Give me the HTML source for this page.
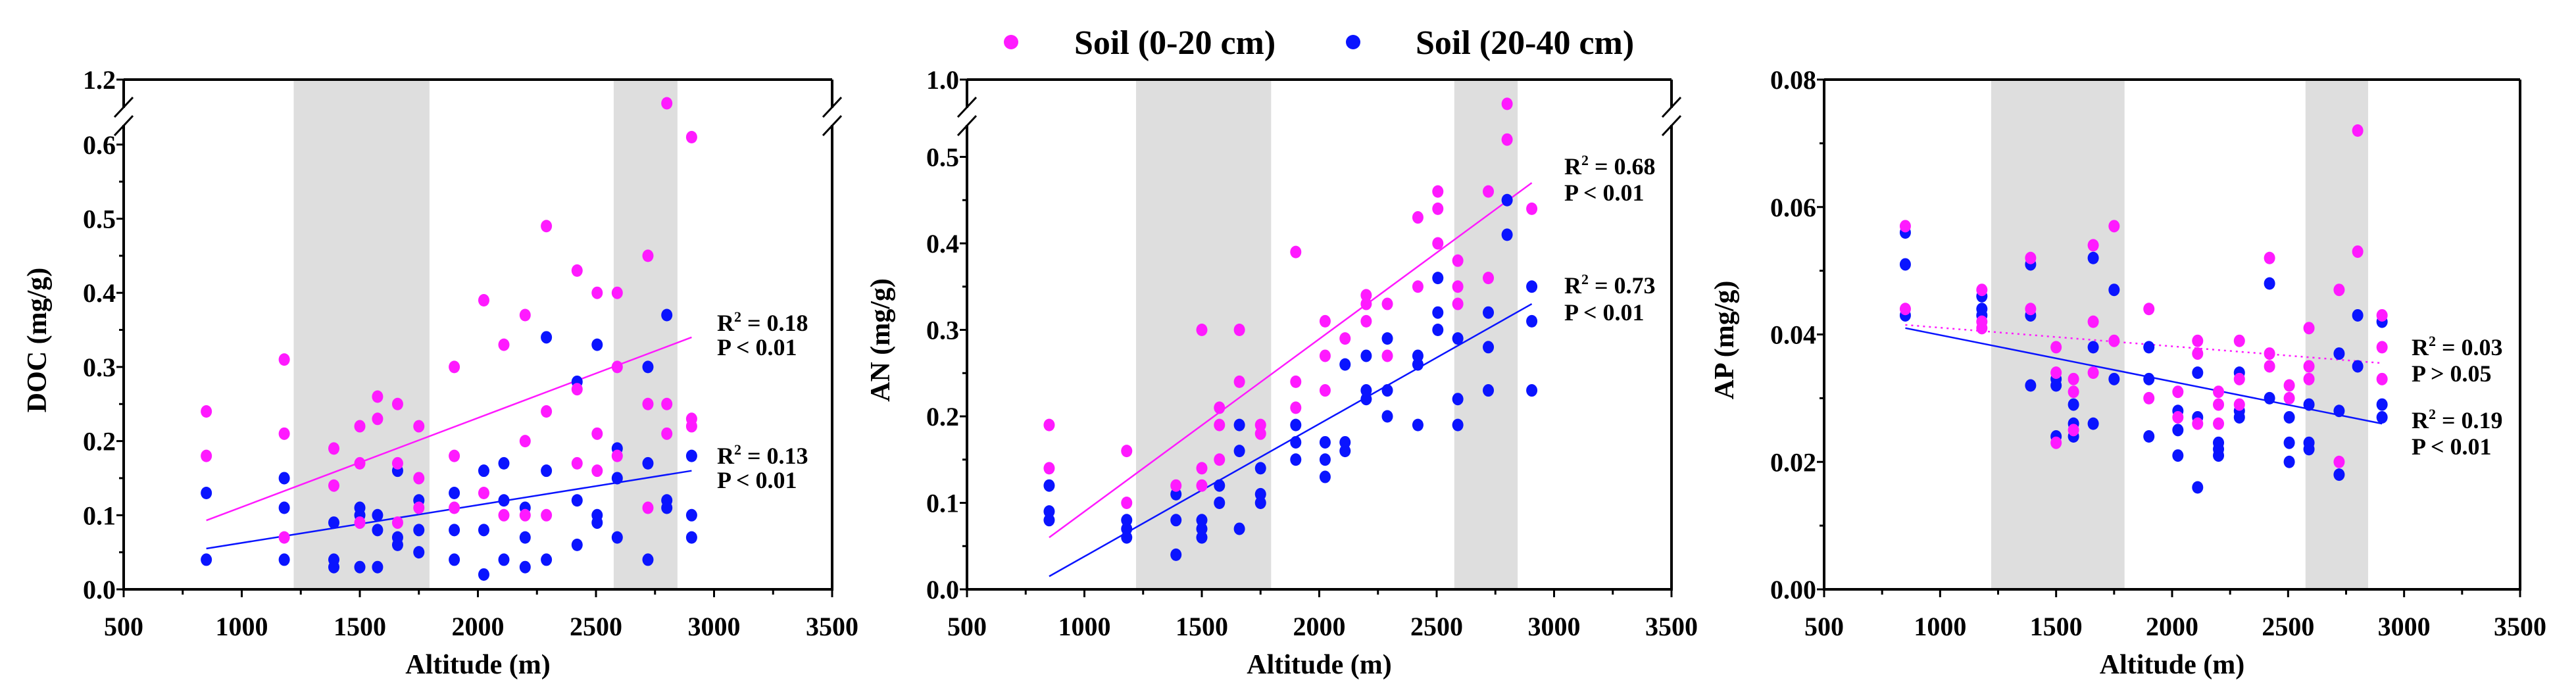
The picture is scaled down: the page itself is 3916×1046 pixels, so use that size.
<!DOCTYPE html>
<html><head><meta charset="utf-8">
<style>
html,body{margin:0;padding:0;background:#fff;}
svg{display:block;}
svg text{font-family:"Liberation Serif","DejaVu Serif",serif !important;font-weight:bold;}
</style></head>
<body>
<svg id="chart" width="3916" height="1046" viewBox="0 0 3916 1046" xmlns="http://www.w3.org/2000/svg" font-family="Liberation Serif, serif" font-weight="bold">
  <g>
    <circle cx="1537" cy="64" r="11" fill="#ff1aff"/>
    <text x="1633" y="82" font-size="52" font-family="Liberation Serif, serif" font-weight="bold">Soil (0-20 cm)</text>
    <circle cx="2057" cy="64" r="11" fill="#0a14ff"/>
    <text x="2152" y="82" font-size="52" font-family="Liberation Serif, serif" font-weight="bold">Soil (20-40 cm)</text>
  </g>
</svg>
<script>
// shared categories
const altitudes = [850,1180,1390,1500,1575,1660,1750,1900,2025,2110,2200,2290,2420,2505,2590,2720,2800,2905];
const xTicks = [500,1000,1500,2000,2500,3000,3500];
const bandStarts = [1220,2575];
const bandEnds = [1795,2845];

// DOC
const docTop = [[0.24,0.18],[0.31,0.21,0.07],[0.19,0.14],[0.22,0.17,0.09],[0.26,0.23],[0.25,0.17,0.09],[0.22,0.15,0.11],[0.30,0.18,0.11],[0.39,0.13],[0.33,0.10],[0.37,0.20,0.10],[0.49,0.24,0.10],[0.43,0.27,0.17],[0.40,0.21,0.16],[0.40,0.30,0.18],[0.45,0.25,0.11],[1.10,0.25,0.21],[0.61,0.23,0.22]];
const docSub = [[0.13,0.04],[0.15,0.11,0.04],[0.09,0.04,0.03],[0.11,0.10,0.03],[0.10,0.08,0.03],[0.16,0.07,0.06],[0.12,0.08,0.05],[0.13,0.08,0.04],[0.16,0.08,0.02],[0.17,0.12,0.04],[0.11,0.07,0.03],[0.34,0.16,0.04],[0.28,0.12,0.06],[0.33,0.10,0.09],[0.19,0.15,0.07],[0.30,0.17,0.04],[0.37,0.12,0.11],[0.18,0.10,0.07]];
const docTrendTop = [0.093,0.34];
const docTrendSub = [0.055,0.16];
const docTicks = ["0.0","0.1","0.2","0.3","0.4","0.5","0.6"];
const docStats = ["R² = 0.18","P < 0.01","R² = 0.13","P < 0.01"];

// AN
const anTop = [[0.19,0.14],[0.16,0.10],[0.12],[0.30,0.14,0.12],[0.21,0.19,0.15],[0.30,0.24],[0.19,0.18],[0.39,0.24,0.21],[0.31,0.27,0.23],[0.29],[0.34,0.33,0.31],[0.33,0.27],[0.43,0.35],[0.46,0.44,0.40],[0.38,0.35,0.33],[0.46,0.36],[0.70,0.52],[0.44]];
const anSub = [[0.12,0.09,0.08],[0.08,0.07,0.06],[0.11,0.08,0.04],[0.08,0.07,0.06],[0.12,0.10],[0.19,0.16,0.07],[0.14,0.11,0.10],[0.19,0.17,0.15],[0.17,0.15,0.13],[0.26,0.17,0.16],[0.27,0.23,0.22],[0.29,0.23,0.20],[0.27,0.26,0.19],[0.36,0.32,0.30],[0.29,0.22,0.19],[0.32,0.28,0.23],[0.45,0.41],[0.35,0.31,0.23]];
const anTrendTop = [0.06,0.47];
const anTrendSub = [0.015,0.33];
const anTicks = ["0.0","0.1","0.2","0.3","0.4","0.5"];

// AP
const apTop = [[0.057,0.044],[0.047,0.042,0.041],[0.052,0.044],[0.038,0.034,0.023],[0.033,0.031,0.025],[0.054,0.042,0.034],[0.057,0.039],[0.044,0.030],[0.031,0.027],[0.039,0.037,0.026],[0.031,0.029,0.026],[0.039,0.033,0.029],[0.052,0.037,0.035],[0.032,0.030],[0.041,0.035,0.033],[0.047,0.020],[0.072,0.053],[0.043,0.038,0.033]];
const apSub = [[0.056,0.051,0.043],[0.046,0.044,0.043],[0.051,0.043,0.032],[0.033,0.032,0.024],[0.029,0.026,0.024],[0.052,0.038,0.026],[0.047,0.033],[0.038,0.033,0.024],[0.028,0.025,0.021],[0.034,0.027,0.016],[0.023,0.022,0.021],[0.034,0.028,0.027],[0.048,0.030],[0.027,0.023,0.020],[0.029,0.023,0.022],[0.037,0.028,0.018],[0.043,0.035],[0.042,0.029,0.027]];
const apTrendTop = [0.0415,0.0355];
const apTrendSub = [0.041,0.026];
const apTicks = ["0.00","0.02","0.04","0.06","0.08"];

const NS = "http://www.w3.org/2000/svg";
const svg = document.getElementById('chart');
const PINK = "#ff1aff", BLUE = "#0a14ff";
const FONT = "Liberation Serif, DejaVu Serif, serif";
function mk(tag, attrs, parent){const e=document.createElementNS(NS,tag);for(const k in attrs)e.setAttribute(k,attrs[k]);if(tag==='text'){e.setAttribute('font-family',FONT);e.setAttribute('font-weight','bold');}parent.appendChild(e);return e;}

function panel(cfg){
  const g = mk('g',{},svg);
  
  
  const L=cfg.left,R=cfg.right,T=121,B=896;
  const xs = a => L+(a-500)/3000*(R-L);
  const ys = cfg.ys;
  for(let i=0;i<bandStarts.length;i++){
    const r=mk('rect',{x:xs(bandStarts[i]),y:T,width:xs(bandEnds[i])-xs(bandStarts[i]),height:B-T,fill:"#dedede"},g);
    
    
  }
  const t1=mk('line',{x1:xs(altitudes[0]),y1:ys(cfg.trendTop[0]),x2:xs(altitudes[altitudes.length-1]),y2:ys(cfg.trendTop[1]),stroke:PINK,"stroke-width":2.5,"stroke-dasharray":cfg.dotted?"3 6":"none"},g);
  
  
  const t2=mk('line',{x1:xs(altitudes[0]),y1:ys(cfg.trendSub[0]),x2:xs(altitudes[altitudes.length-1]),y2:ys(cfg.trendSub[1]),stroke:BLUE,"stroke-width":2.5},g);
  
  
  const draw=(data,col,nm)=>{
    data.forEach((vals,i)=>vals.forEach(v=>{
      const c=mk('ellipse',{cx:xs(altitudes[i]),cy:ys(v),rx:8.5,ry:9.5,fill:col},g);
      
      
    }));
  };
  draw(cfg.sub,BLUE,'point-20-40');
  draw(cfg.top,PINK,'point-0-20');
  mk('line',{x1:L,y1:T,x2:R,y2:T,stroke:"#000","stroke-width":4},g);
  mk('line',{x1:L-2,y1:B,x2:R+2,y2:B,stroke:"#000","stroke-width":4},g);
  if(cfg.brk){
    mk('line',{x1:L,y1:T,x2:L,y2:164,stroke:"#000","stroke-width":4},g);
    mk('line',{x1:L,y1:190,x2:L,y2:B,stroke:"#000","stroke-width":4},g);
    mk('line',{x1:R,y1:T,x2:R,y2:164,stroke:"#000","stroke-width":4},g);
    mk('line',{x1:R,y1:190,x2:R,y2:B,stroke:"#000","stroke-width":4},g);
    [L,R].forEach(x=>{
      mk('line',{x1:x-14,y1:178,x2:x+14,y2:148,stroke:"#000","stroke-width":3},g);
      mk('line',{x1:x-14,y1:206,x2:x+14,y2:176,stroke:"#000","stroke-width":3},g);
    });
  } else {
    mk('line',{x1:L,y1:T,x2:L,y2:B,stroke:"#000","stroke-width":4},g);
    mk('line',{x1:R,y1:T,x2:R,y2:B,stroke:"#000","stroke-width":4},g);
  }
  for(let a=500;a<=3500;a+=250){
    const major=(a%500===0);
    mk('line',{x1:xs(a),y1:B,x2:xs(a),y2:B+(major?12:8),stroke:"#000","stroke-width":3},g);
  }
  xTicks.forEach(a=>{
    const t=mk('text',{x:xs(a),y:966,"font-size":40,"text-anchor":"middle"},g);
    t.textContent=a;
    
    
  });
  cfg.minor.forEach(v=>mk('line',{x1:L-7,y1:ys(v),x2:L,y2:ys(v),stroke:"#000","stroke-width":3},g));
  cfg.ticks.forEach(s=>{
    const v=parseFloat(s);
    mk('line',{x1:L-11,y1:ys(v),x2:L,y2:ys(v),stroke:"#000","stroke-width":3},g);
    const t=mk('text',{x:L-12,y:ys(v)+14,"font-size":40,"text-anchor":"end"},g);
    t.textContent=s;
    
    
  });
  if(cfg.topLabel){
    mk('line',{x1:L-11,y1:T,x2:L,y2:T,stroke:"#000","stroke-width":3},g);
    const t=mk('text',{x:L-12,y:T+14,"font-size":40,"text-anchor":"end"},g);
    t.textContent=cfg.topLabel;
    
    
  }
  const xt=mk('text',{x:(L+R)/2,y:1024,"font-size":42,"text-anchor":"middle"},g);
  xt.textContent="Altitude (m)";
  
  
  const yt=mk('text',{x:0,y:0,"font-size":42,"text-anchor":"middle",transform:`translate(${cfg.ytx},517) rotate(-90)`},g);
  yt.textContent=cfg.ytitle;
  
  
  cfg.statY.forEach((y,i)=>{
    const t=mk('text',{x:cfg.statX,y:y,"font-size":36},g);
    const s=cfg.stats[i];
    if(s.startsWith("R²")){
      t.appendChild(document.createTextNode("R"));
      const sp=mk('tspan',{dy:-14,"font-size":22},t);sp.textContent="2";
      const sp2=mk('tspan',{dy:14},t);sp2.textContent=s.slice(2);
    } else t.textContent=s;
    
    
  });
}

panel({name:'doc-panel',left:188,right:1265,top:docTop,sub:docSub,trendTop:docTrendTop,trendSub:docTrendSub,
  ys:v=>v>0.7?121+(1.2-v)*360:896-v*1127,brk:true,ticks:docTicks,topLabel:"1.2",
  minor:[0.05,0.15,0.25,0.35,0.45,0.55],ytitle:"DOC (mg/g)",ytx:70,
  stats:docStats,statX:1090,statY:[503,540,705,742]});
panel({name:'an-panel',left:1470,right:2541,top:anTop,sub:anSub,trendTop:anTrendTop,trendSub:anTrendSub,
  ys:v=>v>0.6?121+(1.0-v)*123:896-v*1315,brk:true,ticks:anTicks,topLabel:"1.0",
  minor:[0.05,0.15,0.25,0.35,0.45],ytitle:"AN (mg/g)",ytx:1352,
  stats:["R² = 0.68","P < 0.01","R² = 0.73","P < 0.01"],statX:2378,statY:[265,305,446,487]});
panel({name:'ap-panel',left:2773,right:3831,top:apTop,sub:apSub,trendTop:apTrendTop,trendSub:apTrendSub,
  ys:v=>896-v/0.08*775,brk:false,ticks:apTicks,topLabel:null,dotted:true,
  minor:[0.01,0.03,0.05,0.07],ytitle:"AP (mg/g)",ytx:2635,
  stats:["R² = 0.03","P > 0.05","R² = 0.19","P < 0.01"],statX:3666,statY:[540,580,651,691]});
</script>
</body></html>
